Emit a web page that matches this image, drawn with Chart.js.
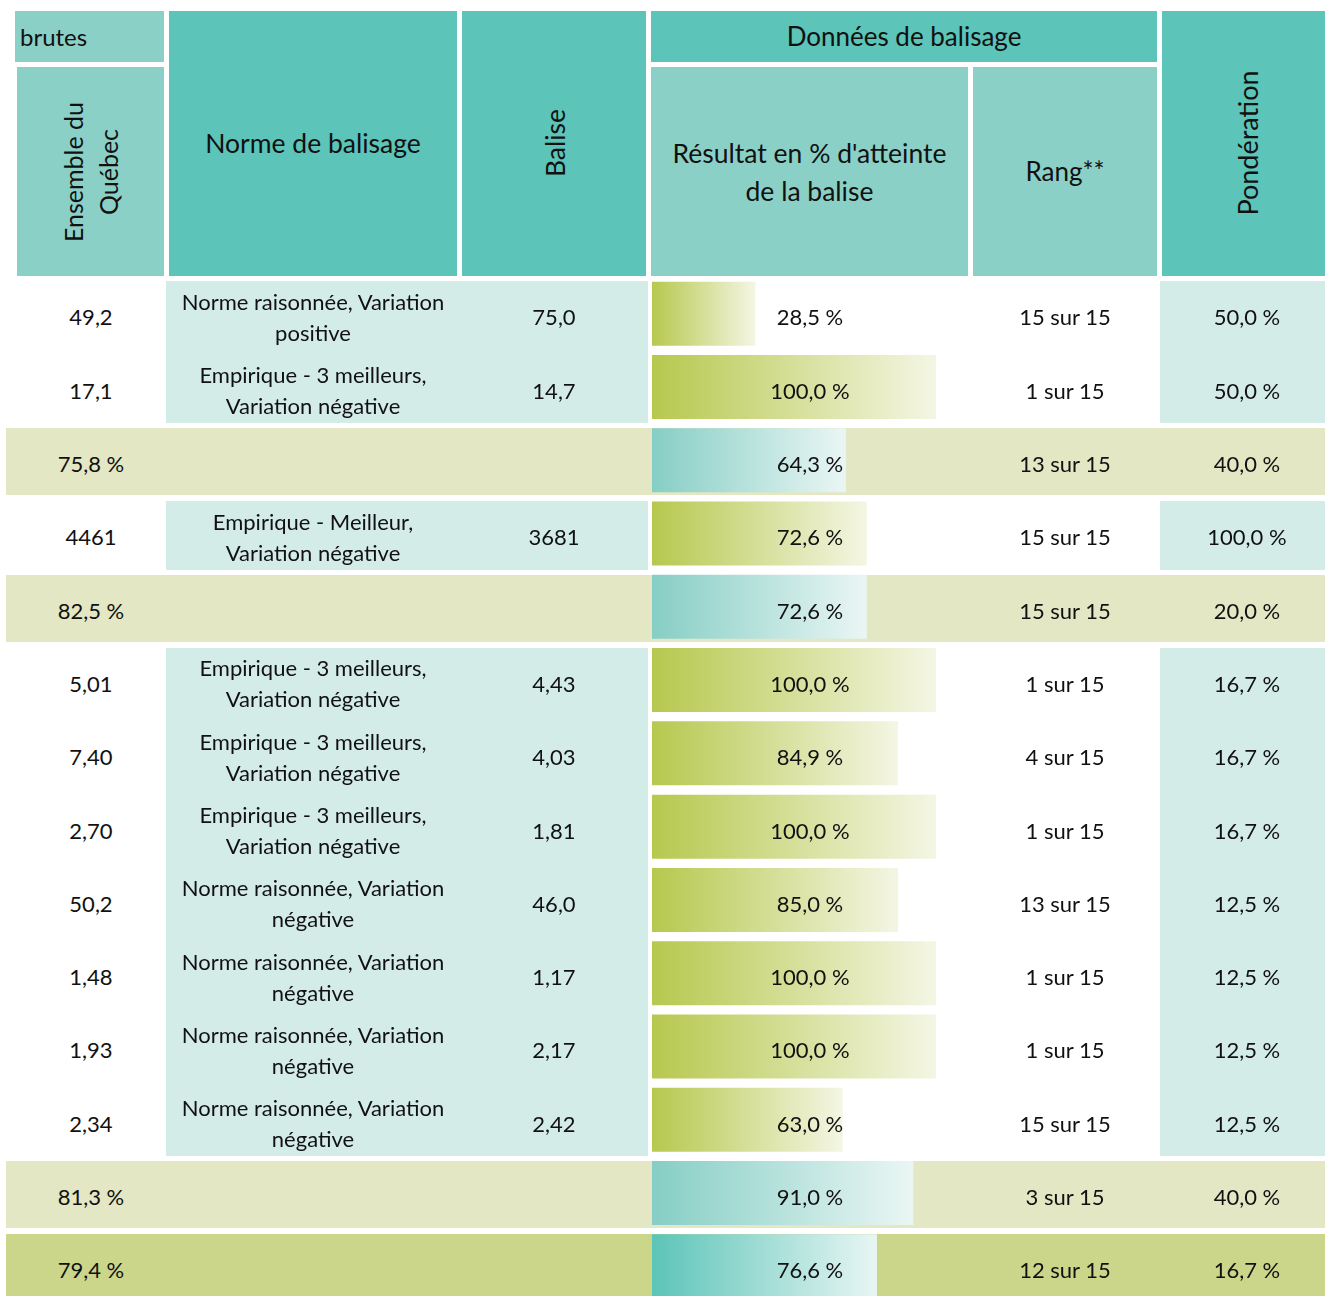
<!DOCTYPE html>
<html>
<head>
<meta charset="utf-8">
<script src="https://cdn.jsdelivr.net/npm/chart.js@4"></script>
<style>
  html, body { margin: 0; padding: 0; width: 1325px; height: 1296px; overflow: hidden; background: #fff; }
  body { position: relative; font-family: Lato, 'Noto Sans', sans-serif; color: #111; }
  .box { position: absolute; }
  .txt { position: absolute; display: flex; align-items: center; justify-content: center; text-align: center;
         font-size: 22px; line-height: 31px; white-space: pre-line; z-index: 3; }
  .rot { position: absolute; transform: translate(-50%, -50%) rotate(-90deg); white-space: nowrap;
         font-size: 25px; line-height: 35px; text-align: center; }
  #bars { position: absolute; left: 652px; top: 277px; z-index: 2; }
</style>
</head>
<body>
<canvas id="bars" width="284" height="1026"></canvas>
<script>
// row kinds: d = indicator, s = subtotal, t = total
var rowTypes = ['d', 'd', 's', 'd', 's', 'd', 'd', 'd', 'd', 'd', 'd', 'd', 's', 't']
var ensembleQuebec = ['49,2', '17,1', '75,8 %', '4461', '82,5 %', '5,01', '7,40', '2,70', '50,2', '1,48', '1,93', '2,34', '81,3 %', '79,4 %']
var normes = [
  'Norme raisonnée, Variation\npositive',
  'Empirique - 3 meilleurs,\nVariation négative',
  '',
  'Empirique - Meilleur,\nVariation négative',
  '',
  'Empirique - 3 meilleurs,\nVariation négative',
  'Empirique - 3 meilleurs,\nVariation négative',
  'Empirique - 3 meilleurs,\nVariation négative',
  'Norme raisonnée, Variation\nnégative',
  'Norme raisonnée, Variation\nnégative',
  'Norme raisonnée, Variation\nnégative',
  'Norme raisonnée, Variation\nnégative',
  '',
  ''
]
var balises = ['75,0', '14,7', '', '3681', '', '4,43', '4,03', '1,81', '46,0', '1,17', '2,17', '2,42', '', '']
var resultats = [28.5, 100.0, 64.3, 72.6, 72.6, 100.0, 84.9, 100.0, 85.0, 100.0, 100.0, 63.0, 91.0, 76.6]
var rangs = [15, 1, 13, 15, 15, 1, 4, 1, 13, 1, 1, 15, 3, 12]
var ponderations = [50.0, 50.0, 40.0, 100.0, 20.0, 16.7, 16.7, 16.7, 12.5, 12.5, 12.5, 12.5, 40.0, 16.7]

var firstRowY = 277.35
var rowH = 73.3
var barMin = -12.5

function pct (v) {
  return v.toFixed(1).replace('.', ',') + ' %'
}

function addBox (x, y, w, h, color) {
  var d = document.createElement('div')
  d.className = 'box'
  d.style.left = x + 'px'
  d.style.top = y + 'px'
  d.style.width = w + 'px'
  d.style.height = h + 'px'
  d.style.background = color
  document.body.appendChild(d)
  return d
}

function addText (x, y, w, h, text, size) {
  var d = document.createElement('div')
  d.className = 'txt'
  d.style.left = x + 'px'
  d.style.top = y + 'px'
  d.style.width = w + 'px'
  d.style.height = h + 'px'
  if (size) d.style.fontSize = size + 'px'
  d.textContent = text
  document.body.appendChild(d)
  return d
}

function addRot (cx, cy, text, size) {
  var d = document.createElement('div')
  d.className = 'rot'
  d.style.left = cx + 'px'
  d.style.top = cy + 'px'
  if (size) d.style.fontSize = size + 'px'
  d.innerHTML = text
  document.body.appendChild(d)
}

// header
var dark = '#5cc4b8'
var light = '#8bd0c6'
addBox(15, 11, 149, 51, light)
addBox(17, 67, 147, 209, light)
addBox(169, 11, 288, 265, dark)
addBox(462, 11, 184, 265, dark)
addBox(651, 11, 506, 51, dark)
addBox(651, 67, 317, 209, light)
addBox(973, 67, 184, 209, light)
addBox(1162, 11, 163, 265, dark)

var t = addText(20, 11, 140, 51, 'brutes', 24)
t.style.justifyContent = 'flex-start'
addText(651, 11, 506, 51, 'Données de balisage', 26)
addText(169, 11, 288, 265, 'Norme de balisage', 26.5)
addText(651, 67, 317, 209, "Résultat en % d'atteinte\nde la balise", 26.5).style.lineHeight = '38px'
addText(973, 67, 184, 209, 'Rang**', 26)
addRot(91, 172, 'Ensemble du<br>Québec', 25)
addRot(555, 143, 'Balise', 26.5)
addRot(1247, 143, 'Pondération', 27)

// row backgrounds
var paleTeal = '#d4ece8'
var khaki = '#e3e7c4'
var olive = '#cbd68a'
for (var i = 0; i < rowTypes.length; i++) {
  var rowY = firstRowY + i * rowH
  if (rowTypes[i] === 'd') {
    var y0 = (i > 0 && rowTypes[i - 1] === 'd') ? rowY : rowY + 4
    var y1 = (i < rowTypes.length - 1 && rowTypes[i + 1] === 'd') ? rowY + rowH : rowY + rowH - 1
    addBox(166, y0, 482, y1 - y0, paleTeal)
    addBox(1160, y0, 165, y1 - y0, paleTeal)
  } else {
    addBox(6, rowY + 4, 1319, rowH - 6, rowTypes[i] === 's' ? khaki : olive)
  }
}

// row texts
for (var j = 0; j < rowTypes.length; j++) {
  var ty = firstRowY + j * rowH + 3
  addText(16, ty, 150, rowH, ensembleQuebec[j])
  if (normes[j]) addText(166, ty, 294, rowH, normes[j])
  if (balises[j]) addText(460, ty, 188, rowH, balises[j])
  addText(652, ty, 316, rowH, pct(resultats[j]))
  addText(973, ty, 184, rowH, rangs[j] + ' sur 15')
  addText(1160, ty, 174, rowH, pct(ponderations[j]))
}

// data bars
var barColors = {
  d: ['rgb(183, 200, 78)', 'rgb(244, 246, 228)'],
  s: ['rgb(134, 206, 197)', 'rgb(234, 246, 244)'],
  t: ['rgb(92, 196, 184)', 'rgb(232, 246, 244)']
}

var ctxBars = document.getElementById('bars').getContext('2d')
var barChart = new Chart(ctxBars, {
  type: 'bar',
  data: {
    labels: ensembleQuebec,
    datasets: [
      {
        label: 'Résultat',
        data: resultats,
        base: barMin,
        barPercentage: 64 / 73.3,
        categoryPercentage: 1,
        borderWidth: 0,
        backgroundColor: function (c) {
          var chart = c.chart
          if (!chart.chartArea || c.dataIndex === undefined) return barColors.d[0]
          var sx = chart.scales.x
          var x0 = sx.getPixelForValue(barMin)
          var x1 = sx.getPixelForValue(resultats[c.dataIndex])
          var cols = barColors[rowTypes[c.dataIndex]]
          var g = chart.ctx.createLinearGradient(x0, 0, x1, 0)
          g.addColorStop(0, cols[0])
          g.addColorStop(1, cols[1])
          return g
        }
      }
    ]
  },
  options: {
    indexAxis: 'y',
    responsive: false,
    animation: false,
    devicePixelRatio: 1,
    layout: { padding: 0 },
    plugins: {
      legend: { display: false },
      tooltip: { enabled: false }
    },
    scales: {
      x: { display: false, min: barMin, max: 100 },
      y: { display: false }
    }
  }
})
</script>
</body>
</html>
